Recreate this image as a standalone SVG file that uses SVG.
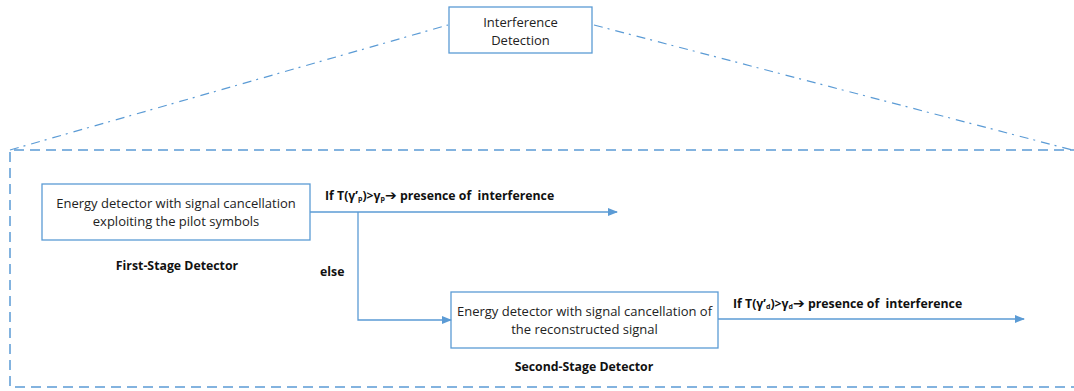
<svg xmlns="http://www.w3.org/2000/svg" width="1074" height="391" viewBox="0 0 1074 391">
<defs>
<marker id="arr" markerWidth="10" markerHeight="8" refX="9" refY="4" orient="auto" markerUnits="userSpaceOnUse">
<path d="M0,0 L10,4 L0,8 Z" fill="#5B9BD5"/>
</marker>
<style>
.box{fill:#fff;stroke:#5B9BD5;stroke-width:1.3}
.t{font-family:"Open Sans","Liberation Sans",sans-serif;font-size:13px;fill:#222;text-anchor:middle}
.b{font-family:"Open Sans","Liberation Sans",sans-serif;font-size:12.3px;font-weight:bold;fill:#111;white-space:pre}
.ln{fill:none;stroke:#5B9BD5;stroke-width:1.3}
.dd{fill:none;stroke:#5B9BD5;stroke-width:1.2;stroke-dasharray:9 5 2 6}
.ds{fill:none;stroke:#5B9BD5;stroke-width:1.5;stroke-dasharray:10 6}
.s{font-size:7px}
.ar{font-family:"DejaVu Sans",sans-serif;font-size:14px;font-weight:bold}
</style>
</defs>
<g id="zoom-outline">
<path class="dd" d="M10,150 L448,25"/>
<path class="dd" d="M594,25 L1080,152"/>
<path class="ds" d="M1080,150 L10,150 L10,387 L1080,387"/>
</g>
<g id="top">
<rect class="box" x="449" y="7" width="143" height="46"/>
<text class="t" x="520.5" y="27">Interference</text>
<text class="t" x="520.5" y="45">Detection</text>
</g>
<g id="first">
<rect class="box" x="42" y="184" width="268" height="56"/>
<text class="t" x="176" y="208">Energy detector with signal cancellation</text>
<text class="t" x="176" y="226">exploiting the pilot symbols</text>
<text class="b" x="177" y="270" text-anchor="middle">First-Stage Detector</text>
</g>
<g id="second">
<rect class="box" x="451" y="292" width="267" height="56"/>
<text class="t" x="584.5" y="316">Energy detector with signal cancellation of</text>
<text class="t" x="584.5" y="334">the reconstructed signal</text>
<text class="b" x="584" y="371" text-anchor="middle">Second-Stage Detector</text>
</g>
<g id="connectors">
<path class="ln" d="M310,212 L617,212" marker-end="url(#arr)"/>
<path class="ln" d="M358,212 L358,320 L451,320" marker-end="url(#arr)"/>
<path class="ln" d="M718,319 L1024,319" marker-end="url(#arr)"/>
<text class="b" x="325" y="200">If T(γ’<tspan class="s" dy="1">p</tspan><tspan dy="-1">)&gt;γ</tspan><tspan class="s" dy="1">p</tspan><tspan class="ar" dy="-1">➔</tspan><tspan> presence of  interference</tspan></text>
<text class="b" x="320" y="276">else</text>
<text class="b" x="733" y="308">If T(γ’<tspan class="s" dy="1">d</tspan><tspan dy="-1">)&gt;γ</tspan><tspan class="s" dy="1">d</tspan><tspan class="ar" dy="-1">➔</tspan><tspan> presence of  interference</tspan></text>
</g>
</svg>
